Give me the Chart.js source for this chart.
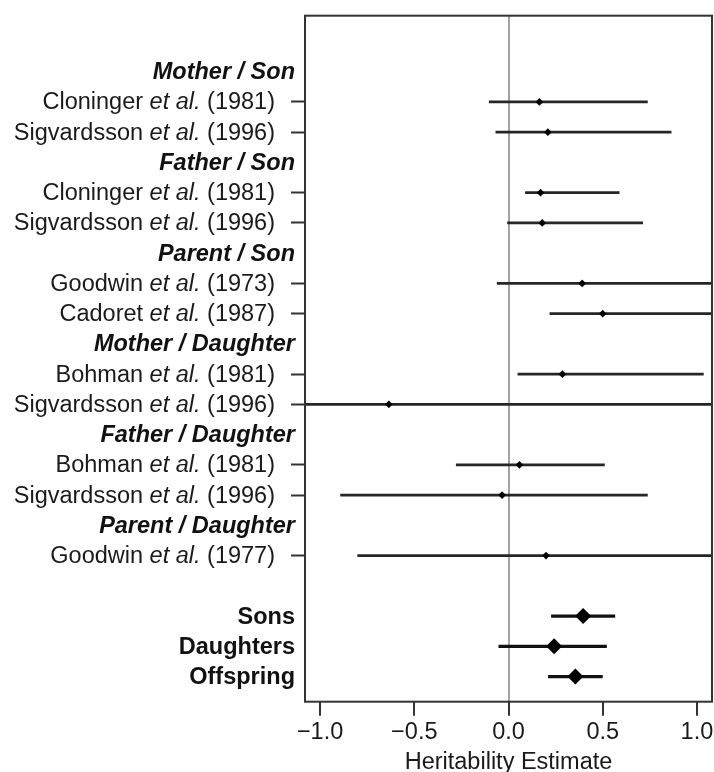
<!DOCTYPE html>
<html>
<head>
<meta charset="utf-8">
<script src="https://cdn.jsdelivr.net/npm/chart.js@4.4.0/dist/chart.umd.min.js"></script>
<style>
    html, body { margin: 0; padding: 0; background: #fff; overflow: hidden; }
    #wrap { width: 714px; height: 772px; }
</style>
</head>
<body>
<div id="wrap"><canvas id="forest"></canvas></div>
<script>
// parent / offspring groups, top to bottom
const groupNames = ["Mother / Son", "Father / Son", "Parent / Son", "Mother / Daughter", "Father / Daughter", "Parent / Daughter"];

// one entry per study
const studyGroup = [0, 0, 1, 1, 2, 2, 3, 3, 4, 4, 5];
const studyAuthors = ["Cloninger", "Sigvardsson", "Cloninger", "Sigvardsson", "Goodwin", "Cadoret", "Bohman", "Sigvardsson", "Bohman", "Sigvardsson", "Goodwin"];
const studyYears = ["1981", "1996", "1981", "1996", "1973", "1987", "1981", "1996", "1981", "1996", "1977"];
const studyEst = [0.164, 0.209, 0.170, 0.179, 0.391, 0.500, 0.286, -0.635, 0.058, -0.034, 0.199];
// intervals that run off the plotted range are given as +/-1.2 (they get clipped)
const studyLow = [-0.104, -0.069, 0.088, -0.007, -0.062, 0.218, 0.048, -1.2, -0.279, -0.893, -0.802];
const studyHigh = [0.739, 0.865, 0.589, 0.714, 1.2, 1.2, 1.036, 1.2, 0.511, 0.739, 1.2];

// pooled estimates
const summaryNames = ["Sons", "Daughters", "Offspring"];
const summaryEst = [0.396, 0.242, 0.355];
const summaryLow = [0.226, -0.053, 0.210];
const summaryHigh = [0.566, 0.522, 0.500];

const xTickValues = [-1, -0.5, 0, 0.5, 1];

const FONT = '23.5px "Liberation Sans", Arial, Helvetica, sans-serif';

// work out which row each thing sits on
const rows = [];
const studyRow = [];
const summaryRow = [];
let r = 0;
groupNames.forEach((g, gi) => {
    rows.push({ kind: "header", row: r++, text: g });
    studyGroup.forEach((sg, i) => {
        if (sg === gi) {
            studyRow[i] = r;
            rows.push({ kind: "study", row: r++, index: i });
        }
    });
});
r++; // blank line before pooled estimates
summaryNames.forEach((name, i) => {
    summaryRow[i] = r;
    rows.push({ kind: "summary", row: r++, text: name });
});

const rowLabels = {
    id: "rowLabels",
    afterDraw(chart) {
        const ctx = chart.ctx;
        const yScale = chart.scales.y;
        ctx.save();
        ctx.fillStyle = "#1a1a1a";
        ctx.textBaseline = "middle";
        ctx.textAlign = "right";
        rows.forEach(row => {
            const py = yScale.getPixelForValue(row.row) + 1;
            if (row.kind === "study") {
                const parts = [
                    [studyAuthors[row.index] + " ", ""],
                    ["et al.", "italic "],
                    [" (" + studyYears[row.index] + ")", ""]
                ];
                let x = 275;
                for (let k = parts.length - 1; k >= 0; k--) {
                    ctx.font = parts[k][1] + FONT;
                    ctx.fillText(parts[k][0], x, py);
                    x -= ctx.measureText(parts[k][0]).width;
                }
            } else {
                ctx.fillStyle = "#111";
                ctx.font = (row.kind === "header" ? "italic bold " : "bold ") + FONT;
                ctx.fillText(row.text, 295, py);
                ctx.fillStyle = "#1a1a1a";
            }
        });

        // plot frame
        const a = chart.chartArea;
        ctx.strokeStyle = "#333";
        ctx.lineWidth = 2;
        ctx.strokeRect(a.left, a.top, a.right - a.left, a.bottom - a.top);
        ctx.restore();
    }
};

new Chart(document.getElementById("forest"), {
    type: "scatter",
    data: {
        datasets: [
            {
                type: "scatter",
                order: 1,
                pointStyle: "rectRot",
                pointRadius: 3.8,
                backgroundColor: "#000",
                borderWidth: 0,
                data: studyEst.map((v, i) => ({ x: v, y: studyRow[i] }))
            },
            {
                type: "scatter",
                order: 1,
                pointStyle: "rectRot",
                pointRadius: 8,
                backgroundColor: "#000",
                borderWidth: 0,
                data: summaryEst.map((v, i) => ({ x: v, y: summaryRow[i] }))
            },
            {
                type: "bar",
                order: 2,
                indexAxis: "y",
                grouped: false,
                maxBarThickness: 2.7,
                backgroundColor: "#262626",
                borderWidth: 0,
                clip: 0,
                data: studyLow.map((lo, i) => ({ x: [lo, studyHigh[i]], y: studyRow[i] }))
            },
            {
                type: "bar",
                order: 2,
                indexAxis: "y",
                grouped: false,
                maxBarThickness: 3.4,
                backgroundColor: "#111",
                borderWidth: 0,
                clip: 0,
                data: summaryLow.map((lo, i) => ({ x: [lo, summaryHigh[i]], y: summaryRow[i] }))
            }
        ]
    },
    options: {
        responsive: true,
        maintainAspectRatio: false,
        animation: false,
        events: [],
        layout: { autoPadding: false, padding: { top: 15.7, right: 2, left: 0, bottom: 0 } },
        plugins: {
            legend: { display: false },
            tooltip: { enabled: false }
        },
        scales: {
            x: {
                type: "linear",
                min: -1.08,
                max: 1.08,
                afterBuildTicks: scale => { scale.ticks = xTickValues.map(v => ({ value: v })); },
                afterFit: scale => {
                    scale.height = 70.3;
                    scale.paddingLeft = 0;
                    scale.paddingRight = 0;
                },
                border: { display: false },
                grid: {
                    color: c => (c.tick && c.tick.value === 0 ? "#a3a3a3" : "rgba(0,0,0,0)"),
                    lineWidth: 2,
                    tickColor: "#333",
                    tickWidth: 2,
                    tickLength: 14
                },
                ticks: {
                    color: "#1a1a1a",
                    font: { family: '"Liberation Sans", Arial, sans-serif', size: 23.5 },
                    padding: 3,
                    maxRotation: 0,
                    callback: v => (v < 0 ? "\u2212" : "") + Math.abs(v).toFixed(1)
                },
                title: {
                    display: true,
                    text: "Heritability Estimate",
                    color: "#1a1a1a",
                    font: { family: '"Liberation Sans", Arial, sans-serif', size: 23.5 },
                    padding: { top: 0, bottom: -5 }
                }
            },
            y: {
                type: "linear",
                reverse: true,
                min: -1.85,
                max: 20.83,
                offset: false,
                afterBuildTicks: scale => { scale.ticks = studyRow.map(v => ({ value: v })); },
                afterFit: scale => { scale.width = 305; },
                border: { display: false },
                grid: {
                    offset: false,
                    drawOnChartArea: false,
                    tickColor: "#333",
                    tickWidth: 2,
                    tickLength: 14
                },
                ticks: { display: false }
            }
        }
    },
    plugins: [rowLabels]
});
</script>
</body>
</html>
